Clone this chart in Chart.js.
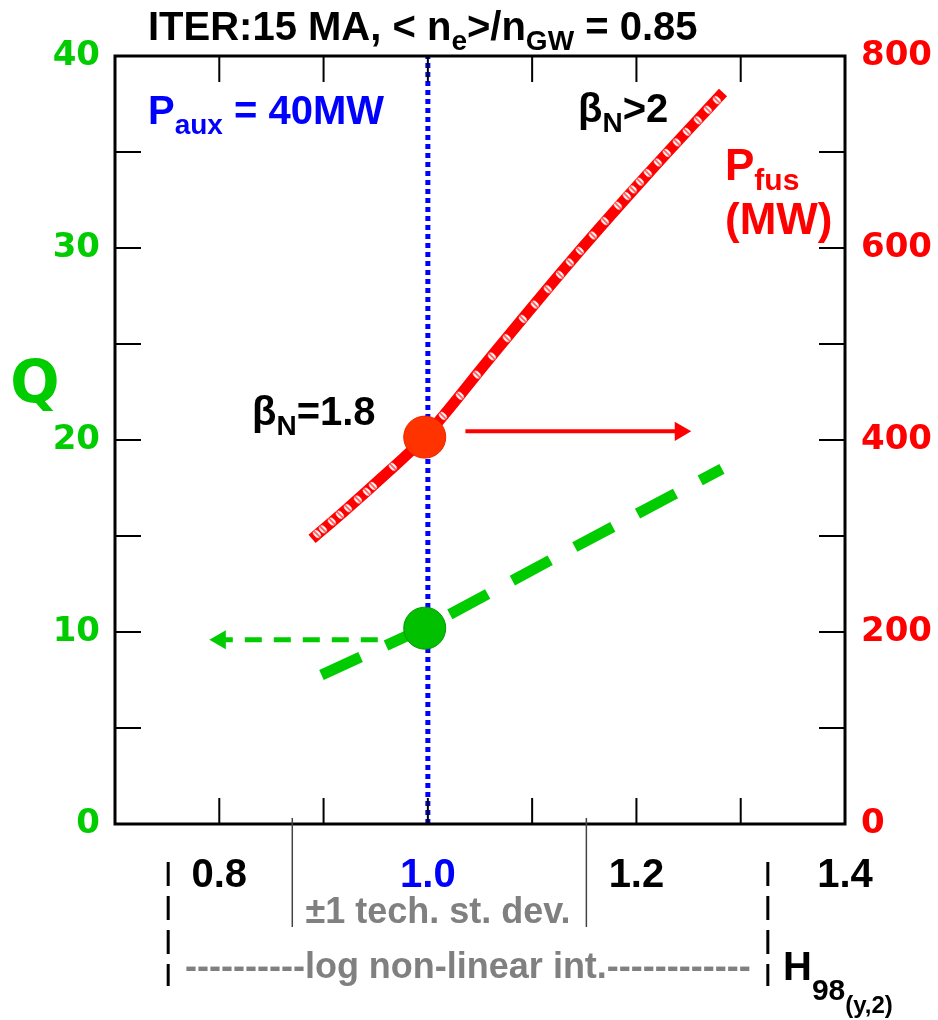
<!DOCTYPE html>
<html>
<head>
<meta charset="utf-8">
<script src="https://cdn.jsdelivr.net/npm/chart.js@4"></script>
<style>
  body { margin: 0; background: #fff; }
  canvas { display: block; }
</style>
</head>
<body>
<canvas id="chart" width="938" height="1020"></canvas>
<script>
// H98(y,2) axis, Q on the left, Pfus (MW) on the right
const hTickLabels = ['0.8', '1.0', '1.2', '1.4'];
const qTickLabels = ['0', '10', '20', '30', '40'];
const pTickLabels = ['0', '200', '400', '600', '800'];

// fusion power curve (red, right axis)
const pfusH  = [0.889, 0.920, 0.955, 0.997, 1.060, 1.140, 1.210, 1.283];
const pfusMW = [297,   326,   360,   403,   486,   590,   676,   762];

// small white marks sitting on the red curve
const markH  = [0.8937, 0.8994, 0.908, 0.9157, 0.9234, 0.933, 0.9416, 0.9474, 0.9665, 1.0145, 1.0308, 1.0471, 1.0615, 1.0758, 1.0912,
                1.1027, 1.1151, 1.1267, 1.1362, 1.1458, 1.1583, 1.1698, 1.1823, 1.1909, 1.1966, 1.2034, 1.211, 1.2206, 1.2292, 1.2388,
                1.2484, 1.259, 1.2685, 1.2772];
const markMW = [302, 307, 315, 322, 329, 338, 346, 352, 372, 425, 446, 468, 487, 506, 526,
                541, 557, 572, 585, 597, 613, 628, 644, 654, 661, 669, 678, 689, 699, 710,
                721, 733, 744, 754];

// Q curve (green dashed, left axis)
const qH   = [0.898, 1.0,  1.14, 1.282];
const qVal = [7.76,  10.3, 14.4, 18.5];

// operating point at H = 1
const opH = 0.997;
const opQ = 10.2;
const opMW = 403;

// reference line H = 1.0
const refH = [1.0, 1.0];
const refQ = [0, 40];

// arrows pointing to the axes
const redArrowH = [1.036, 1.242];
const redArrowMW = [409, 409];
const greenArrowH = [0.952, 0.801];
const greenArrowQ = [9.6, 9.6];

// brackets under the axis
const stdDevH = [0.87, 1.152];
const logIntH = [0.751, 1.326];

const GREEN = '#00cc00';
const RED = '#ff0000';
const BLUE = '#0000ff';
const GREY = '#808080';
const FONT = '"Liberation Sans", Arial, Helvetica, sans-serif';
const WIDE = '"DejaVu Sans", Verdana, sans-serif';

const pts = (xs, ys) => xs.map((x, i) => ({ x: x, y: ys[i] }));

// white oval with a red stroke, used as point style on the red curve
function makeMark() {
  const c = document.createElement('canvas');
  c.width = 10; c.height = 12;
  const g = c.getContext('2d');
  g.fillStyle = '#fff';
  g.beginPath();
  g.ellipse(5, 6, 3, 4.4, 0, 0, Math.PI * 2);
  g.fill();
  g.strokeStyle = RED;
  g.lineWidth = 1.2;
  g.beginPath();
  g.moveTo(5, 1.5); g.lineTo(5, 10.5);
  g.stroke();
  return c;
}

function rich(ctx, x, y, parts, color) {
  ctx.fillStyle = color;
  ctx.textBaseline = 'alphabetic';
  ctx.textAlign = 'left';
  let cx = x;
  parts.forEach(([t, size, dy]) => {
    ctx.font = 'bold ' + size + 'px ' + FONT;
    ctx.fillText(t, cx, y + dy);
    cx += ctx.measureText(t).width;
  });
}

const decor = {
  id: 'decor',
  afterDraw(chart) {
    const { ctx, chartArea: a, scales } = chart;
    const sx = scales.x, sy = scales.y, sy2 = scales.y2;
    const T = 26;
    const seg = (x1, y1, x2, y2) => { ctx.beginPath(); ctx.moveTo(x1, y1); ctx.lineTo(x2, y2); ctx.stroke(); };
    ctx.save();
    ctx.strokeStyle = '#000';
    ctx.lineWidth = 2;
    sx.ticks.forEach(t => {
      if (t.value <= sx.min + 1e-6 || t.value >= sx.max - 1e-6) return;
      const px = sx.getPixelForValue(t.value);
      seg(px, a.bottom, px, a.bottom - T);
      seg(px, a.top, px, a.top + T);
    });
    sy.ticks.forEach(t => {
      if (t.value <= sy.min || t.value >= sy.max) return;
      const py = sy.getPixelForValue(t.value);
      seg(a.left, py, a.left + T, py);
    });
    sy2.ticks.forEach(t => {
      if (t.value <= sy2.min || t.value >= sy2.max) return;
      const py = sy2.getPixelForValue(t.value);
      seg(a.right, py, a.right - T, py);
    });
    ctx.lineWidth = 3;
    ctx.strokeRect(a.left, a.top, a.right - a.left, a.bottom - a.top);

    // +-1 st. dev. bracket
    ctx.strokeStyle = '#444';
    ctx.lineWidth = 1.5;
    stdDevH.forEach(h => {
      const px = sx.getPixelForValue(h);
      seg(px, a.bottom - 6, px, 927);
    });
    // log non-linear interval
    ctx.strokeStyle = '#000';
    ctx.lineWidth = 3;
    ctx.setLineDash([24, 10]);
    logIntH.forEach(h => {
      const px = sx.getPixelForValue(h);
      seg(px, 862, px, 986);
    });
    ctx.setLineDash([]);

    // texts
    rich(ctx, 148, 40, [['ITER:15 MA, < n', 40, 0], ['e', 28, 10], ['>/n', 40, 0], ['GW', 28, 10], [' = 0.85', 40, 0]], '#000');
    rich(ctx, 148, 124, [['P', 40, 0], ['aux', 28, 10], [' = 40MW', 40, 0]], BLUE);
    rich(ctx, 578, 122, [['\u03b2', 40, 0], ['N', 28, 10], ['>2', 40, 0]], '#000');
    rich(ctx, 252, 425, [['\u03b2', 40, 0], ['N', 28, 10], ['=1.8', 40, 0]], '#000');
    rich(ctx, 725, 180, [['P', 44, 0], ['fus', 30, 10]], RED);
    rich(ctx, 725, 234, [['(MW)', 44, 0]], RED);
    rich(ctx, 783, 980, [['H', 40, 0], ['98', 30, 20], ['(y,2)', 24, 33]], '#000');

    ctx.fillStyle = GREEN;
    ctx.font = 'bold 58px ' + WIDE;
    ctx.textAlign = 'center';
    ctx.fillText('Q', 35, 402);

    ctx.fillStyle = GREY;
    ctx.font = 'bold 36px ' + FONT;
    ctx.fillText('\u00b11 tech. st. dev.', 438, 923);
    ctx.textAlign = 'left';
    ctx.fillText('----------log non-linear int.------------', 185, 978, 572);
    ctx.restore();
  }
};

const mark = makeMark();

new Chart(document.getElementById('chart'), {
  type: 'scatter',
  data: {
    datasets: [
      {
        data: [{ x: opH, y: opMW }], yAxisID: 'y2', order: 0,
        pointRadius: 21, backgroundColor: '#ff3300', borderColor: '#ee2200', borderWidth: 1
      },
      {
        data: [{ x: opH, y: opQ }], yAxisID: 'y', order: 0,
        pointRadius: 21, backgroundColor: '#00c000', borderColor: '#009900', borderWidth: 1
      },
      {
        data: pts(markH, markMW), yAxisID: 'y2', order: 1,
        pointStyle: mark, pointRadius: 4, rotation: -45
      },
      {
        data: pts(pfusH, pfusMW), yAxisID: 'y2', order: 2, showLine: true,
        borderColor: RED, borderWidth: 11, borderCapStyle: 'butt',
        cubicInterpolationMode: 'monotone', pointRadius: 0
      },
      {
        data: pts(qH, qVal), yAxisID: 'y', order: 3, showLine: true,
        borderColor: GREEN, borderWidth: 11, borderDash: [43, 28], borderCapStyle: 'butt',
        pointRadius: 0
      },
      {
        data: pts(refH, refQ), yAxisID: 'y', order: 4, showLine: true,
        borderColor: BLUE, borderWidth: 5, borderDash: [5, 4], borderCapStyle: 'butt',
        pointRadius: 0
      },
      {
        data: pts(redArrowH, redArrowMW), yAxisID: 'y2', order: 5, showLine: true,
        borderColor: RED, borderWidth: 4, borderCapStyle: 'butt',
        pointRadius: [0, 11], pointStyle: 'triangle', rotation: 90,
        backgroundColor: RED, pointBorderWidth: 0
      },
      {
        data: pts(greenArrowH, greenArrowQ), yAxisID: 'y', order: 5, showLine: true,
        borderColor: GREEN, borderWidth: 5, borderDash: [17, 12], borderCapStyle: 'butt',
        pointRadius: [0, 11], pointStyle: 'triangle', rotation: -90,
        backgroundColor: GREEN, pointBorderWidth: 0
      }
    ]
  },
  options: {
    responsive: false,
    animation: false,
    events: [],
    layout: { padding: { top: 56, left: 0, right: 0, bottom: 0 } },
    plugins: { legend: { display: false }, tooltip: { enabled: false } },
    scales: {
      x: {
        type: 'linear', min: 0.7, max: 1.4,
        afterFit: s => { s.height = 196; },
        border: { display: false },
        grid: { display: false, drawTicks: false },
        ticks: {
          stepSize: 0.1, padding: 28, autoSkip: false, maxRotation: 0,
          font: { family: FONT, size: 40, weight: 'bold' },
          color: c => (c.tick && Math.abs(c.tick.value - 1) < 1e-6) ? BLUE : '#000',
          callback: v => hTickLabels.includes(v.toFixed(1)) ? v.toFixed(1) : ''
        }
      },
      y: {
        type: 'linear', position: 'left', min: 0, max: 40,
        afterFit: s => { s.width = 115; },
        border: { display: false },
        grid: { display: false, drawTicks: false },
        ticks: {
          stepSize: 5, padding: 15, autoSkip: false,
          font: { family: WIDE, size: 34, weight: 'bold' },
          color: GREEN,
          callback: v => qTickLabels.includes(String(v)) ? String(v) : ''
        }
      },
      y2: {
        type: 'linear', position: 'right', min: 0, max: 800,
        afterFit: s => { s.width = 93; },
        border: { display: false },
        grid: { display: false, drawTicks: false },
        ticks: {
          stepSize: 100, padding: 16, autoSkip: false,
          font: { family: WIDE, size: 34, weight: 'bold' },
          color: RED,
          callback: v => pTickLabels.includes(String(v)) ? String(v) : ''
        }
      }
    }
  },
  plugins: [decor]
});
</script>
</body>
</html>
